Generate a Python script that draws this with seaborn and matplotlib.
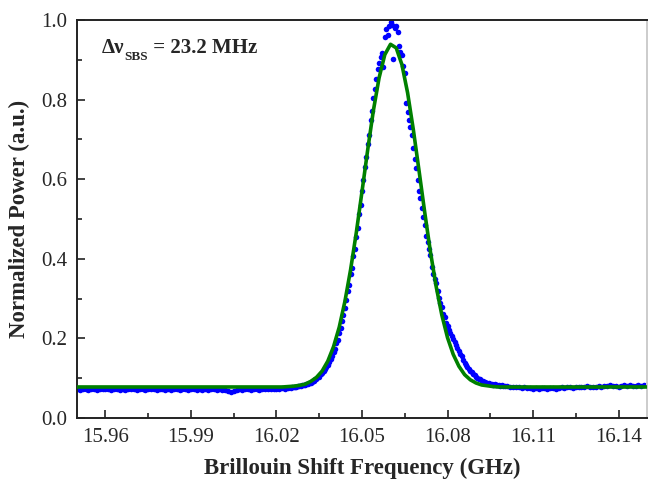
import numpy as np
import pandas as pd
import matplotlib
matplotlib.use("Agg")
import matplotlib.pyplot as plt
from matplotlib.ticker import MultipleLocator
import seaborn as sns

# measured spectrum, read off the reference (GHz sweep, normalized power)
# left baseline, 1 MHz steps 15.950 .. 16.024
base_left = [
    0.072, 0.071, 0.073, 0.072, 0.070, 0.072, 0.073, 0.071, 0.072, 0.074,
    0.073, 0.072, 0.071, 0.072, 0.073, 0.071, 0.072, 0.070, 0.072, 0.073,
    0.072, 0.071, 0.073, 0.072, 0.071, 0.072, 0.074, 0.072, 0.071, 0.072,
    0.073, 0.071, 0.072, 0.070, 0.072, 0.073, 0.071, 0.072, 0.073, 0.071,
    0.072, 0.073, 0.071, 0.072, 0.070, 0.072, 0.071, 0.073, 0.072, 0.071,
    0.072, 0.070, 0.071, 0.068, 0.066, 0.069, 0.071, 0.072, 0.071, 0.073,
    0.072, 0.071, 0.073, 0.072, 0.071, 0.072, 0.073, 0.072, 0.074, 0.073,
    0.074, 0.073, 0.075, 0.074, 0.076,
]
# gain peak, 0.5 MHz steps 16.0250 .. 16.1000
peak = [
    0.076, 0.077, 0.078, 0.077, 0.079, 0.080, 0.081, 0.080, 0.082, 0.083,
    0.082, 0.085, 0.086, 0.087, 0.089, 0.091, 0.092, 0.097, 0.098, 0.103,
    0.104, 0.110, 0.113, 0.117, 0.123, 0.127, 0.134, 0.140, 0.149, 0.156,
    0.166, 0.174, 0.188, 0.197, 0.213, 0.225, 0.244, 0.258, 0.276, 0.297,
    0.318, 0.335, 0.362, 0.378, 0.407, 0.425, 0.456, 0.478, 0.512, 0.536,
    0.571, 0.598, 0.631, 0.655, 0.688, 0.712, 0.748, 0.771, 0.803, 0.826,
    0.851, 0.876, 0.893, 0.908, 0.917, 0.882, 0.958, 0.977, 0.962, 0.985,
    0.996, 0.987, 0.901, 0.979, 0.985, 0.971, 0.935, 0.920, 0.912, 0.885,
    0.866, 0.792, 0.770, 0.749, 0.732, 0.712, 0.679, 0.652, 0.628, 0.598,
    0.570, 0.553, 0.528, 0.505, 0.485, 0.458, 0.443, 0.424, 0.409, 0.380,
    0.362, 0.350, 0.340, 0.318, 0.301, 0.290, 0.279, 0.262, 0.255, 0.240,
    0.232, 0.222, 0.213, 0.206, 0.199, 0.190, 0.183, 0.176, 0.168, 0.160,
    0.155, 0.146, 0.138, 0.134, 0.128, 0.124, 0.119, 0.115, 0.111, 0.107,
    0.104, 0.101, 0.099, 0.097, 0.094, 0.093, 0.090, 0.089, 0.087, 0.088,
    0.086, 0.085, 0.084, 0.085, 0.083, 0.082, 0.083, 0.081, 0.082, 0.080,
    0.081,
]
# right baseline, 1 MHz steps 16.101 .. 16.150
base_right = [
    0.080, 0.079, 0.078, 0.077, 0.078, 0.076, 0.077, 0.075, 0.076, 0.074,
    0.075, 0.074, 0.076, 0.075, 0.073, 0.075, 0.076, 0.074, 0.076, 0.077,
    0.076, 0.078, 0.077, 0.076, 0.078, 0.079, 0.077, 0.078, 0.080, 0.078,
    0.079, 0.078, 0.080, 0.079, 0.081, 0.080, 0.082, 0.080, 0.081, 0.079,
    0.080, 0.082, 0.081, 0.083, 0.081, 0.080, 0.082, 0.081, 0.083, 0.082,
]

# fitted curve
fit_freq = [15.950, 16.000, 16.020, 16.022, 16.024, 16.026, 16.028, 16.030,
            16.032, 16.034, 16.036, 16.038, 16.040, 16.042, 16.044, 16.046,
            16.048, 16.050, 16.052, 16.054, 16.056, 16.058, 16.060, 16.062,
            16.064, 16.066, 16.068, 16.070, 16.072, 16.074, 16.076, 16.078,
            16.080, 16.082, 16.084, 16.086, 16.088, 16.090, 16.092, 16.094,
            16.096, 16.098, 16.100, 16.150]
fit_power = [0.078, 0.078, 0.078, 0.078, 0.079, 0.080, 0.082, 0.085,
             0.092, 0.102, 0.118, 0.143, 0.179, 0.228, 0.293, 0.373,
             0.466, 0.569, 0.674, 0.773, 0.855, 0.913, 0.939, 0.930,
             0.888, 0.817, 0.725, 0.622, 0.517, 0.418, 0.331, 0.259,
             0.202, 0.160, 0.130, 0.109, 0.096, 0.088, 0.083, 0.081,
             0.079, 0.078, 0.078, 0.078]

freq = np.concatenate([
    np.linspace(15.950, 16.024, len(base_left)),
    np.linspace(16.025, 16.100, len(peak)),
    np.linspace(16.101, 16.150, len(base_right)),
])
power = np.array(base_left + peak + base_right)
meas = pd.DataFrame({"freq": freq, "power": power})
fit = pd.DataFrame({"freq": fit_freq, "power": fit_power})

sns.set_style("ticks")
plt.rcParams['font.family'] = ['Liberation Serif', 'DejaVu Serif']

fig = plt.figure(figsize=(6.48, 4.79), dpi=100)
ax = fig.add_axes([0.1188, 0.1273, 0.8797, 0.8309])

sns.scatterplot(data=meas, x="freq", y="power", color="#0000FF", s=16,
                linewidth=0, ax=ax, zorder=2)
sns.lineplot(data=fit, x="freq", y="power", color="#008000", linewidth=2.6,
             ax=ax, zorder=3)

ax.set_xlim(15.95, 16.15)
ax.set_ylim(0, 1.0)
ax.xaxis.set_minor_locator(MultipleLocator(0.015))
ax.yaxis.set_minor_locator(MultipleLocator(0.1))
ax.set_xticks([15.96, 15.99, 16.02, 16.05, 16.08, 16.11, 16.14])
ax.set_xticklabels(["15.96", "15.99", "16.02", "16.05", "16.08", "16.11", "16.14"])
ax.set_yticks([0.0, 0.2, 0.4, 0.6, 0.8, 1.0])
ax.set_yticklabels(["0.0", "0.2", "0.4", "0.6", "0.8", "1.0"])

ax.tick_params(which="major", direction="in", length=6, width=1.2,
               labelsize=15, pad=7, color="#222222")
ax.tick_params(which="minor", direction="in", length=3.5, width=1.2,
               color="#222222")
for side in ["left", "bottom", "top", "right"]:
    ax.spines[side].set_linewidth(1.4)
    ax.spines[side].set_color("#222222")
ax.spines["right"].set_color("#cccccc")

ax.set_xlabel("Brillouin Shift Frequency (GHz)", fontsize=16.5,
              fontweight="bold", labelpad=8)
ax.set_ylabel("Normalized Power (a.u.)", fontsize=16.5, fontweight="bold",
              labelpad=8)

# linewidth annotation: Δν with a lowered, smaller SBS subscript
t1 = ax.text(0.043, 0.905, "\u0394\u03bd", transform=ax.transAxes,
             fontsize=15, fontweight="bold", va="bottom", ha="left")
t2 = ax.annotate("SBS", xy=(1, 0), xycoords=t1, xytext=(0.5, -4),
                 textcoords="offset points", fontsize=9.5, fontweight="bold",
                 va="bottom", ha="left")
ax.annotate(" = 23.2 MHz", xy=(1, 0), xycoords=(t2, t1), xytext=(0, 0),
            textcoords="offset points", fontsize=15, fontweight="bold",
            va="bottom", ha="left")

fig.savefig("out.png", dpi=100)
plt.close(fig)
